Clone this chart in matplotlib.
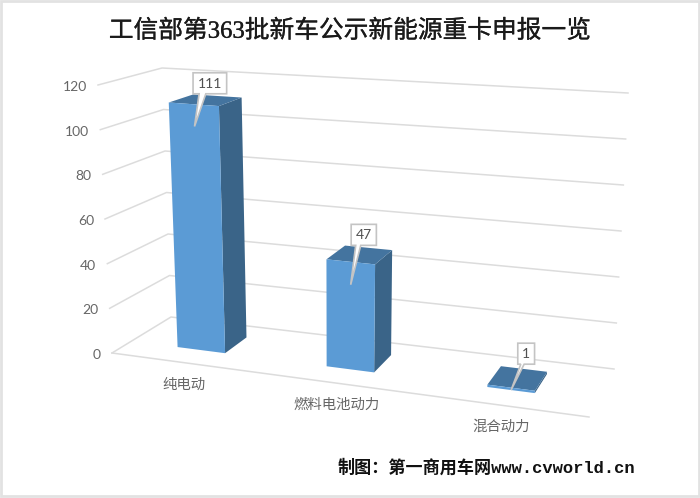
import numpy as np
import matplotlib
matplotlib.use('Agg')
import matplotlib.pyplot as plt
import matplotlib.patheffects as pe
from matplotlib.patches import Polygon, Rectangle

# Dados do gráfico
categories = ['纯电动', '燃料电池动力', '混合动力']
values = [111, 47, 1]
y_ticks = [0, 20, 40, 60, 80, 100, 120]
title = '工信部第363批新车公示新能源重卡申报一览'
credit = '制图：第一商用车网www.cvworld.cn'

Y_MAX = 120
BAR_WIDTH = 0.102
DEPTH_FRONT, DEPTH_BACK = 0.33, 0.74
CENTERS = [0.150, 0.47, 0.815]  # posição das categorias no piso, com perspectiva
GRID = '#dcdcdc'
TEXT = '#666666'

# Cantos da caixa 3D em pixels: (u, altura, profundidade)
CORNERS = {
    (0, 0, 0): (112, 353), (0, 1, 0): (98, 85),
    (0, 0, 1): (171, 317), (0, 1, 1): (162, 68),
    (1, 0, 0): (589, 417), (1, 1, 0): (606, 122),
    (1, 0, 1): (614, 369), (1, 1, 1): (628, 93),
}


def project(u, value, depth):
    """Projeta (categoria, valor, profundidade) para pixels da figura."""
    h = value / Y_MAX
    point = np.zeros(2)
    for (cu, ch, cd), xy in CORNERS.items():
        weight = (u if cu else 1 - u) * (h if ch else 1 - h) * (depth if cd else 1 - depth)
        point += weight * np.array(xy)
    return point


def draw_callout(ax, tip, center, text):
    half_w = 4.2 + 4.2 * len(text)
    half_h = 10.5
    cx, cy = center
    left = cx - half_w
    base_y = cy + half_h
    outline = [
        (left, cy - half_h), (cx + half_w, cy - half_h), (cx + half_w, base_y),
        (left + 0.76 * half_w, base_y), tuple(tip), (left + 0.36 * half_w, base_y),
        (left, base_y),
    ]
    ax.add_patch(Polygon(outline, closed=True, facecolor='white', edgecolor='#c4c4c4',
                         linewidth=1.2, zorder=6, joinstyle='miter'))
    ax.text(cx, cy + 0.5, text, ha='center', va='center', fontsize=10, color='#505050',
            family=['Lato', 'DejaVu Sans'], zorder=7)


fig = plt.figure(figsize=(7, 4.98), dpi=100)
ax = fig.add_axes([0, 0, 1, 1])
ax.set_xlim(0, 700)
ax.set_ylim(498, 0)
ax.axis('off')

ax.add_patch(Rectangle((1, 1), 697.5, 495, facecolor='white', edgecolor='#e2e2e2', linewidth=2))

# Grade nas paredes e eixo Y
for tick in y_ticks:
    wall = np.array([project(0, tick, 0), project(0, tick, 1), project(1, tick, 1)])
    ax.plot(wall[:, 0], wall[:, 1], color=GRID, linewidth=1.1, zorder=1)
    ax.text(wall[0, 0] - 11, wall[0, 1] + 2, str(tick), ha='right', va='center', fontsize=10,
            color=TEXT, family=['Lato', 'DejaVu Sans'])

floor = np.array([project(0, 0, 0), project(1, 0, 0)])
ax.plot(floor[:, 0], floor[:, 1], color=GRID, linewidth=1.1, zorder=1)

# Barras 3D
callout_offsets = [(16, -21), (13, -27), (15, -34)]
for i, (label, value) in enumerate(zip(categories, values)):
    mid = CENTERS[i]
    u0, u1 = mid - BAR_WIDTH / 2, mid + BAR_WIDTH / 2
    d0, d1 = DEPTH_FRONT, DEPTH_BACK

    side = [project(u1, 0, d0), project(u1, 0, d1), project(u1, value, d1), project(u1, value, d0)]
    top = [project(u0, value, d0), project(u1, value, d0), project(u1, value, d1), project(u0, value, d1)]
    front = [project(u0, 0, d0), project(u1, 0, d0), project(u1, value, d0), project(u0, value, d0)]
    ax.add_patch(Polygon(side, closed=True, facecolor='#3a6488', edgecolor='none', zorder=3))
    ax.add_patch(Polygon(top, closed=True, facecolor='#44749f', edgecolor='none', zorder=3))
    ax.add_patch(Polygon(front, closed=True, facecolor='#5b9bd5', edgecolor='none', zorder=4))

    # Rótulo de dados com ponteiro
    top_center = project(mid, value, d0)
    tip = project(mid, max(value - 10, 0), d0)
    dx, dy = callout_offsets[i]
    draw_callout(ax, tip, top_center + np.array([dx, dy]), str(value))

    # Rótulo da categoria
    anchor = project(mid, 0, 0)
    ax.text(anchor[0], anchor[1] + 22, label, ha='center', va='center', fontsize=10.4,
            color=TEXT, family=['Noto Sans CJK SC', 'DejaVu Sans'])

title_text = ax.text(350, 31, title, ha='center', va='center', fontsize=17.8, color='#1a1a1a',
                     family=['Liberation Serif', 'Noto Sans CJK SC'])
title_text.set_path_effects([pe.withStroke(linewidth=0.2, foreground='#1a1a1a')])
ax.text(338, 467, credit, ha='left', va='center', fontsize=12.3, color='#111111',
        family=['Liberation Mono', 'Noto Sans CJK SC'], fontweight='bold')

fig.savefig('out.png', dpi=100)
